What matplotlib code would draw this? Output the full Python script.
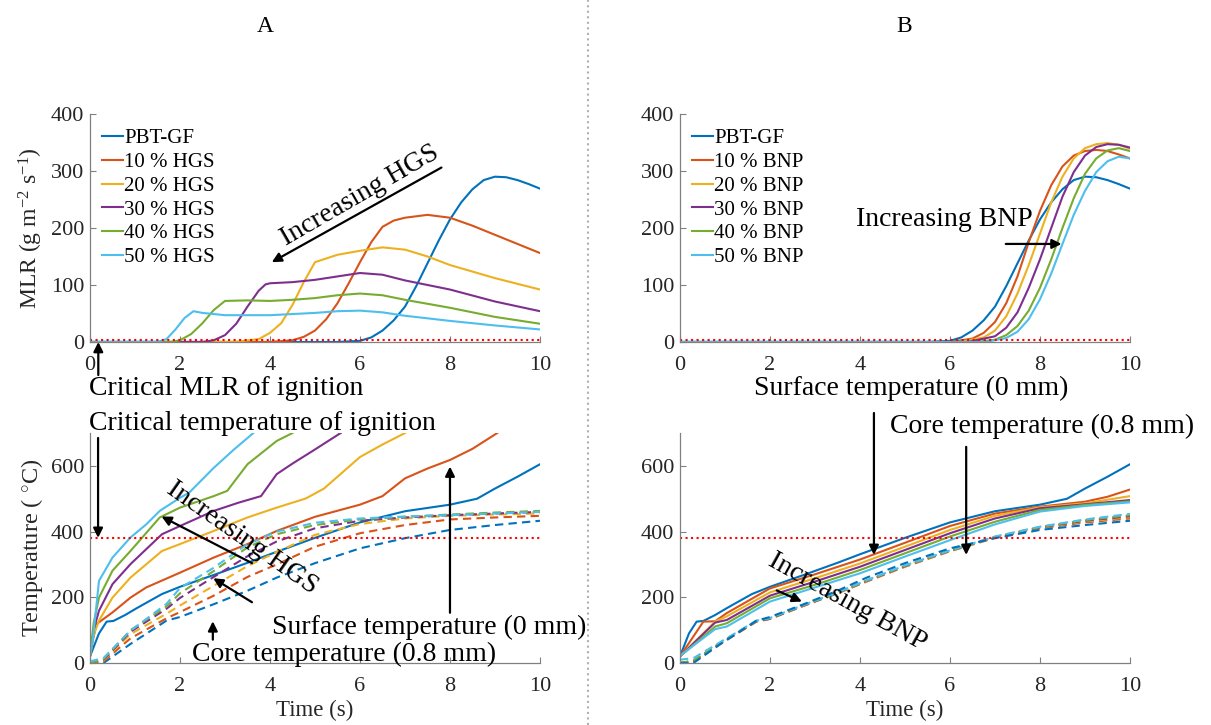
import numpy as np
import matplotlib
matplotlib.use('Agg')
import matplotlib.pyplot as plt

plt.rcParams['font.family'] = ['Liberation Serif', 'DejaVu Serif']
plt.rcParams['mathtext.fontset'] = 'custom'
plt.rcParams['mathtext.rm'] = 'Liberation Serif'
plt.rcParams['mathtext.it'] = 'Liberation Serif:italic'

# ---- data ----
colors = ['#0072BD', '#D95319', '#EDB120', '#7E2F8E', '#77AC30', '#4DBEEE']
labels_hgs = ['PBT-GF', '10 % HGS', '20 % HGS', '30 % HGS', '40 % HGS', '50 % HGS']
labels_bnp = ['PBT-GF', '10 % BNP', '20 % BNP', '30 % BNP', '40 % BNP', '50 % BNP']

crit_mlr = 3
crit_temp = 380

# MLR, PBT-GF (shared by A and B)
t_mlr_ref = [0, 5.5, 6.0, 6.25, 6.5, 6.75, 7.0, 7.25, 7.5, 7.75, 8.0, 8.25, 8.5, 8.75, 9.0, 9.25, 9.5, 9.75, 10]
mlr_ref = [0, 0, 2, 8, 20, 38, 62, 98, 138, 178, 215, 245, 268, 284, 290, 289, 284, 277, 269]

# MLR, HGS
t_mlr_h10 = [0, 4.0, 4.5, 4.75, 5.0, 5.25, 5.5, 5.75, 6.0, 6.25, 6.5, 6.75, 7.0, 7.5, 8.0, 8.5, 9.0, 9.5, 10]
mlr_h10 = [0, 0, 3, 9, 20, 40, 68, 103, 140, 175, 202, 213, 218, 223, 218, 204, 188, 172, 156]
t_mlr_h20 = [0, 3.2, 3.75, 4.0, 4.25, 4.5, 4.75, 5.0, 5.5, 6.0, 6.5, 7.0, 7.5, 8.0, 9.0, 10]
mlr_h20 = [0, 0, 5, 16, 33, 65, 105, 140, 153, 160, 166, 162, 150, 135, 112, 92]
t_mlr_h30 = [0, 2.5, 2.75, 3.0, 3.25, 3.5, 3.75, 3.9, 4.0, 4.5, 5.0, 5.5, 6.0, 6.5, 7.0, 8.0, 9.0, 10]
mlr_h30 = [0, 0, 3, 12, 32, 62, 90, 101, 103, 105, 109, 115, 121, 118, 108, 92, 71, 54]
t_mlr_h40 = [0, 1.8, 2.0, 2.25, 2.5, 2.75, 3.0, 3.5, 4.0, 4.5, 5.0, 5.5, 6.0, 6.5, 7.0, 8.0, 9.0, 10]
mlr_h40 = [0, 0, 3, 14, 33, 56, 72, 73, 72, 74, 77, 82, 85, 82, 74, 60, 44, 32]
t_mlr_h50 = [0, 1.5, 1.7, 1.9, 2.1, 2.3, 2.5, 3.0, 4.0, 5.0, 5.5, 6.0, 6.5, 7.0, 8.0, 9.0, 10]
mlr_h50 = [0, 0, 5, 22, 42, 54, 51, 47, 47, 51, 54, 55, 52, 46, 37, 29, 22]

# MLR, BNP
t_mlr_b10 = [0, 6.0, 6.5, 6.75, 7.0, 7.25, 7.5, 7.75, 8.0, 8.25, 8.5, 8.75, 9.0, 9.25, 9.5, 9.75, 10]
mlr_b10 = [0, 0, 6, 16, 35, 68, 115, 175, 230, 275, 308, 327, 335, 337, 335, 329, 322]
t_mlr_b20 = [0, 6.2, 6.75, 7.0, 7.25, 7.5, 7.75, 8.0, 8.25, 8.5, 8.75, 9.0, 9.25, 9.5, 9.75, 10]
mlr_b20 = [0, 0, 8, 20, 45, 85, 135, 190, 245, 290, 322, 340, 347, 349, 346, 339]
t_mlr_b30 = [0, 6.4, 7.0, 7.25, 7.5, 7.75, 8.0, 8.25, 8.5, 8.75, 9.0, 9.25, 9.5, 9.75, 10]
mlr_b30 = [0, 0, 10, 25, 52, 95, 145, 200, 255, 298, 327, 342, 347, 346, 341]
t_mlr_b40 = [0, 6.6, 7.0, 7.25, 7.5, 7.75, 8.0, 8.25, 8.5, 8.75, 9.0, 9.25, 9.5, 9.75, 10]
mlr_b40 = [0, 0, 4, 12, 28, 55, 95, 145, 200, 252, 295, 322, 336, 340, 335]
t_mlr_b50 = [0, 6.8, 7.25, 7.5, 7.75, 8.0, 8.25, 8.5, 8.75, 9.0, 9.25, 9.5, 9.75, 10]
mlr_b50 = [0, 0, 7, 18, 40, 75, 120, 172, 223, 265, 298, 317, 325, 322]

# surface temperature, PBT-GF (shared)
t_sur_ref = [0, 0.1, 0.2, 0.37, 0.52, 0.78, 1.04, 1.6, 2.0, 2.75, 3.5, 4.0, 5.0, 6.0, 7.0, 8.0, 8.6, 9.0, 9.5, 10.0]
sur_ref = [20, 55, 90, 126, 128, 146, 167, 210, 232, 268, 305, 331, 381, 428, 462, 482, 500, 531, 567, 605]

# surface temperature, HGS
t_sur_h10 = [0, 0.08, 0.15, 0.5, 0.9, 1.25, 2.0, 2.75, 3.5, 4.15, 5.0, 6.0, 6.5, 7.0, 7.5, 8.0, 8.5, 9.05]
sur_h10 = [20, 80, 119, 154, 199, 230, 275, 321, 362, 402, 445, 482, 508, 562, 592, 618, 652, 700]
t_sur_h20 = [0, 0.08, 0.2, 0.5, 0.9, 1.6, 2.0, 2.75, 3.5, 4.15, 4.8, 5.2, 6.0, 6.5, 7.0]
sur_h20 = [20, 85, 129, 199, 260, 341, 362, 402, 443, 473, 501, 531, 627, 665, 700]
t_sur_h30 = [0, 0.08, 0.2, 0.5, 0.9, 1.6, 2.0, 2.75, 3.3, 3.8, 4.15, 4.5, 5.0, 5.57]
sur_h30 = [20, 100, 159, 240, 301, 392, 417, 463, 488, 508, 575, 607, 650, 700]
t_sur_h40 = [0, 0.08, 0.2, 0.5, 0.9, 1.55, 2.0, 2.75, 3.05, 3.5, 4.15, 4.5]
sur_h40 = [20, 120, 199, 281, 341, 443, 473, 508, 524, 605, 676, 700]
t_sur_h50 = [0, 0.07, 0.2, 0.5, 0.9, 1.25, 1.55, 2.0, 2.2, 2.75, 3.2, 3.63]
sur_h50 = [20, 78, 250, 321, 382, 422, 463, 503, 518, 594, 650, 700]

# surface temperature, BNP
t_sur_b10 = [0, 0.52, 0.78, 1.04, 2, 3, 4, 5, 6, 7, 8, 9, 9.5, 10]
sur_b10 = [20, 126, 127, 152, 227, 270, 315, 366, 417, 455, 476, 491, 506, 528]
t_sur_b20 = [0, 0.78, 1.04, 2, 3, 4, 5, 6, 7, 8, 9, 10]
sur_b20 = [20, 126, 142, 215, 258, 303, 354, 405, 448, 474, 486, 508]
t_sur_b30 = [0, 0.78, 1.04, 2, 3, 4, 5, 6, 7, 8, 9, 10]
sur_b30 = [20, 123, 131, 205, 248, 293, 344, 395, 440, 471, 483, 496]
t_sur_b40 = [0, 0.78, 1.04, 2, 3, 4, 5, 6, 7, 8, 9, 10]
sur_b40 = [20, 111, 121, 197, 238, 283, 334, 385, 430, 466, 481, 492]
t_sur_b50 = [0, 0.78, 1.04, 2, 3, 4, 5, 6, 7, 8, 9, 10]
sur_b50 = [22, 103, 111, 187, 230, 273, 324, 374, 422, 461, 478, 489]

# core temperature (0.8 mm)
t_core = [0, 0.3, 0.9, 1.7, 2.0, 2.75, 3.5, 4.15, 5.0, 6.0, 7.0, 8.0, 9.0, 10.0]
core_ref = [0, 0, 58, 129, 140, 179, 220, 260, 304, 349, 380, 405, 420, 433]
core_h10 = [0, 5, 75, 136, 155, 205, 262, 300, 354, 395, 420, 437, 443, 448]
core_h20 = [0, 8, 88, 150, 175, 235, 295, 338, 390, 423, 440, 448, 452, 455]
core_h30 = [0, 10, 95, 165, 198, 262, 325, 370, 410, 433, 443, 450, 455, 460]
core_h40 = [0, 12, 100, 172, 212, 280, 352, 392, 420, 437, 445, 452, 458, 463]
core_h50 = [5, 15, 98, 180, 228, 290, 362, 400, 427, 440, 446, 450, 455, 460]
core_b10 = [0, 3, 58, 126, 134, 174, 212, 248, 293, 340, 381, 410, 428, 440]
core_b20 = [0, 5, 60, 127, 135, 175, 213, 249, 294, 341, 382, 412, 431, 444]
core_b30 = [0, 6, 61, 127, 135, 175, 214, 250, 295, 342, 383, 413, 433, 447]
core_b40 = [0, 8, 62, 128, 136, 176, 214, 251, 296, 342, 384, 414, 435, 450]
core_b50 = [10, 15, 64, 129, 137, 177, 215, 252, 297, 343, 385, 415, 437, 454]

mlr_A = [(t_mlr_ref, mlr_ref), (t_mlr_h10, mlr_h10), (t_mlr_h20, mlr_h20),
         (t_mlr_h30, mlr_h30), (t_mlr_h40, mlr_h40), (t_mlr_h50, mlr_h50)]
mlr_B = [(t_mlr_ref, mlr_ref), (t_mlr_b10, mlr_b10), (t_mlr_b20, mlr_b20),
         (t_mlr_b30, mlr_b30), (t_mlr_b40, mlr_b40), (t_mlr_b50, mlr_b50)]
sur_A = [(t_sur_ref, sur_ref), (t_sur_h10, sur_h10), (t_sur_h20, sur_h20),
         (t_sur_h30, sur_h30), (t_sur_h40, sur_h40), (t_sur_h50, sur_h50)]
sur_B = [(t_sur_ref, sur_ref), (t_sur_b10, sur_b10), (t_sur_b20, sur_b20),
         (t_sur_b30, sur_b30), (t_sur_b40, sur_b40), (t_sur_b50, sur_b50)]
core_A = [core_ref, core_h10, core_h20, core_h30, core_h40, core_h50]
core_B = [core_b10, core_b20, core_b30, core_b40, core_b50, core_ref]
core_B_col = [1, 2, 3, 4, 5, 0]

# ---- figure ----
fig = plt.figure(figsize=(12.11, 7.25), dpi=100)
axc = '#808080'
txc = '#262626'

def style(ax, ymax, yticks):
    ax.set_xlim(0, 10)
    ax.set_ylim(0, ymax)
    ax.set_xticks([0, 2, 4, 6, 8, 10])
    ax.set_yticks(yticks)
    for s in ['top', 'right']:
        ax.spines[s].set_visible(False)
    for s in ['left', 'bottom']:
        ax.spines[s].set_color(axc)
        ax.spines[s].set_linewidth(0.9)
    ax.tick_params(direction='in', length=4, color=axc, labelcolor=txc, labelsize=16, pad=4)
    ax.tick_params(axis='x', pad=10)

arrow = dict(arrowstyle='-|>', color='k', lw=1.6, mutation_scale=14, shrinkA=0, shrinkB=0)
fs = 20
leg_kw = dict(loc='upper left', bbox_to_anchor=(0.0, 0.99), frameon=False, fontsize=15,
              handlelength=1.0, handletextpad=0.05, labelspacing=0.2, borderaxespad=0.2)

# A top: MLR
ax1 = fig.add_axes([0.0743, 0.5283, 0.3716, 0.3145])
for (t, y), c, lab in zip(mlr_A, colors, labels_hgs):
    ax1.plot(t, y, color=c, lw=1.5, label=lab)
ax1.axhline(crit_mlr, color='red', ls=':', lw=1.5)
style(ax1, 400, [0, 100, 200, 300, 400])
ax1.set_ylabel('MLR (g m$^{-2}$ s$^{-1}$)', fontsize=17, color=txc, labelpad=4)
ax1.legend(**leg_kw)
ax1.text(5.99, 257, 'Increasing HGS', rotation=30, fontsize=fs, ha='center', va='center')
ax1.annotate('', xy=(4.04, 140), xytext=(7.81, 306), arrowprops=arrow)
ax1.annotate('', xy=(0.185, 0), xytext=(0.185, -58), arrowprops=arrow, annotation_clip=False)
ax1.text(-0.03, -82, 'Critical MLR of ignition', fontsize=fs, ha='left', va='center')

# A bottom: temperature
ax2 = fig.add_axes([0.0743, 0.0855, 0.3716, 0.3172])
for (t, y), c in zip(sur_A, colors):
    ax2.plot(t, y, color=c, lw=1.5)
for y, c in zip(core_A, colors):
    ax2.plot(t_core, y, color=c, lw=1.5, ls='--', dashes=(4, 2.5))
ax2.axhline(crit_temp, color='red', ls=':', lw=1.5)
style(ax2, 700, [0, 200, 400, 600])
ax2.set_ylabel('Temperature ( $^{\\circ}$C)', fontsize=17.5, color=txc, labelpad=4)
ax2.set_xlabel('Time (s)', fontsize=16.5, color=txc, labelpad=3)
ax2.text(-0.03, 728, 'Critical temperature of ignition', fontsize=fs, ha='left', va='center')
ax2.annotate('', xy=(0.18, 381), xytext=(0.18, 685), arrowprops=arrow, annotation_clip=False)
ax2.text(3.38, 382, 'Increasing HGS', rotation=-35, fontsize=fs, ha='center', va='center')
ax2.annotate('', xy=(1.59, 446), xytext=(3.6, 304), arrowprops=arrow)
ax2.annotate('', xy=(2.74, 258), xytext=(3.6, 185), arrowprops=arrow)
ax2.annotate('', xy=(2.73, 127), xytext=(2.73, 71), arrowprops=arrow)
ax2.annotate('', xy=(8.0, 598), xytext=(8.0, 153), arrowprops=arrow)
ax2.text(7.53, 107, 'Surface temperature (0 mm)', fontsize=fs, ha='center', va='center')
ax2.text(5.64, 25, 'Core temperature (0.8 mm)', fontsize=fs, ha='center', va='center')

# B top: MLR
ax3 = fig.add_axes([0.5615, 0.5283, 0.3716, 0.3145])
for (t, y), c, lab in zip(mlr_B, colors, labels_bnp):
    ax3.plot(t, y, color=c, lw=1.5, label=lab)
ax3.axhline(crit_mlr, color='red', ls=':', lw=1.5)
style(ax3, 400, [0, 100, 200, 300, 400])
ax3.legend(**leg_kw)
ax3.text(5.87, 214, 'Increasing BNP', fontsize=fs, ha='center', va='center')
ax3.annotate('', xy=(8.48, 172), xytext=(7.24, 172), arrowprops=arrow)

# B bottom: temperature
ax4 = fig.add_axes([0.5615, 0.0855, 0.3716, 0.3172])
for (t, y), c in zip(sur_B, colors):
    ax4.plot(t, y, color=c, lw=1.5)
for y, ci in zip(core_B, core_B_col):
    ax4.plot(t_core, y, color=colors[ci], lw=1.5, ls='--', dashes=(4, 2.5))
ax4.axhline(crit_temp, color='red', ls=':', lw=1.5)
style(ax4, 700, [0, 200, 400, 600])
ax4.set_xlabel('Time (s)', fontsize=16.5, color=txc, labelpad=3)
ax4.text(5.13, 837, 'Surface temperature (0 mm)', fontsize=fs, ha='center', va='center')
ax4.text(8.04, 721, 'Core temperature (0.8 mm)', fontsize=fs, ha='center', va='center')
ax4.annotate('', xy=(4.31, 329), xytext=(4.31, 761), arrowprops=arrow, annotation_clip=False)
ax4.annotate('', xy=(6.36, 329), xytext=(6.36, 658), arrowprops=arrow, annotation_clip=False)
ax4.text(3.73, 187, 'Increasing BNP', rotation=-29, fontsize=fs, ha='center', va='center')
ax4.annotate('', xy=(2.71, 187), xytext=(2.15, 221), arrowprops=arrow)

# panel letters and divider
fig.text(0.219, 0.963, 'A', fontsize=17, ha='center', va='center')
fig.text(0.747, 0.963, 'B', fontsize=17, ha='center', va='center')
fig.add_artist(plt.Line2D([0.4855, 0.4855], [0, 1], transform=fig.transFigure,
                          color='#b0b0b0', ls=':', lw=1.5))

fig.savefig('out.png', dpi=100)
